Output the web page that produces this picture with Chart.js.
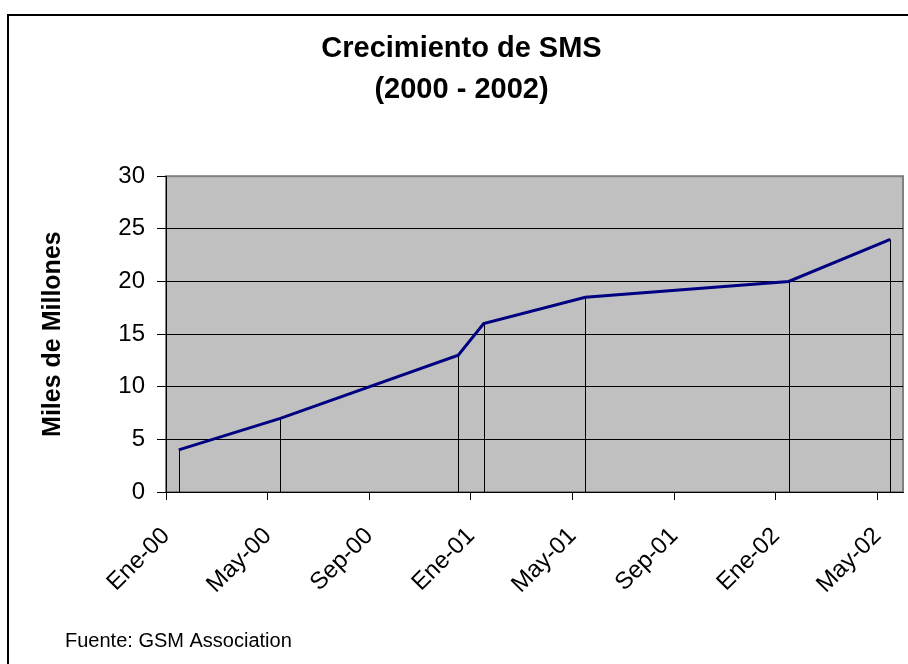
<!DOCTYPE html>
<html>
<head>
<meta charset="utf-8">
<script src="https://cdn.jsdelivr.net/npm/chart.js@4.4.1/dist/chart.umd.min.js"></script>
<style>
  body { margin: 0; background: #fff; overflow: hidden; width: 908px; height: 664px; position: relative; }
  #marco { position: absolute; left: 7px; top: 14px; width: 960px; height: 720px; border: 2px solid #000; }
  #grafico { position: absolute; left: 0; top: 0; }
</style>
</head>
<body>
<div id="marco"></div>
<canvas id="grafico" width="908" height="664"></canvas>
<script>
// meses contados desde Ene-00
var meses = [0, 4, 11, 12, 16, 24, 28];
var fechas = ['Ene-00', 'May-00', 'Dic-00', 'Ene-01', 'May-01', 'Ene-02', 'May-02'];
var sms = [4, 7, 13, 16, 18.5, 20, 24];
var etiquetasX = ['Ene-00', 'May-00', 'Sep-00', 'Ene-01', 'May-01', 'Sep-01', 'Ene-02', 'May-02'];
var titulo = ['Crecimiento de SMS', '(2000 - 2002)'];
var fuente = 'Fuente: GSM Association';

var familia = "'Liberation Sans', Arial, sans-serif";
Chart.defaults.color = '#000';
Chart.defaults.font.family = familia;

var puntos = meses.map(function (m, i) {
  return { x: m + 0.5, y: sms[i] };  // Excel dibuja cada mes en su centro
});

var fondoArea = {
  id: 'fondoArea',
  beforeDraw: function (chart) {
    var a = chart.chartArea, ctx = chart.ctx;
    ctx.save();
    ctx.fillStyle = '#C0C0C0';
    ctx.fillRect(a.left, a.top, a.right - a.left, a.bottom - a.top);
    ctx.strokeStyle = '#808080';
    ctx.lineWidth = 2;
    ctx.strokeRect(a.left, a.top, a.right - a.left, a.bottom - a.top);
    ctx.restore();
  }
};

var lineasCaida = {
  id: 'lineasCaida',
  beforeDatasetsDraw: function (chart) {
    var ctx = chart.ctx;
    var base = chart.scales.y.getPixelForValue(0);
    ctx.save();
    ctx.strokeStyle = '#000';
    ctx.lineWidth = 1;
    chart.getDatasetMeta(0).data.forEach(function (p) {
      var x = Math.round(p.x) + 0.5;
      ctx.beginPath();
      ctx.moveTo(x, p.y);
      ctx.lineTo(x, base);
      ctx.stroke();
    });
    ctx.restore();
  }
};

var notaFuente = {
  id: 'notaFuente',
  afterDraw: function (chart) {
    var ctx = chart.ctx;
    ctx.save();
    ctx.font = '20px ' + familia;
    ctx.fillStyle = '#000';
    ctx.textBaseline = 'alphabetic';
    ctx.fillText(fuente, 65, 647);
    ctx.restore();
  }
};

var ctx = document.getElementById('grafico').getContext('2d');
var grafico = new Chart(ctx, {
  type: 'line',
  data: {
    datasets: [{
      label: 'SMS',
      data: puntos,
      borderColor: '#000080',
      borderWidth: 3,
      pointRadius: 0,
      tension: 0,
      fill: false
    }]
  },
  options: {
    responsive: false,
    animation: false,
    devicePixelRatio: 1,
    layout: { padding: { left: 20, right: 5, top: 0, bottom: 0 } },
    plugins: {
      legend: { display: false },
      tooltip: { enabled: false },
      title: {
        display: true,
        text: titulo,
        font: { size: 29, weight: 'bold', lineHeight: 1.4 },
        padding: { top: 29, bottom: 66 }
      }
    },
    scales: {
      x: {
        type: 'linear',
        min: 0,
        max: 29,
        afterBuildTicks: function (scale) {
          scale.ticks = etiquetasX.map(function (_, i) { return { value: i * 4 }; });
        },
        afterFit: function (scale) {
          scale.height = 172;
          scale.paddingLeft = 0;
          scale.paddingRight = 0;
        },
        grid: { drawOnChartArea: false, drawTicks: true, tickLength: 8, tickColor: '#000', tickWidth: 1 },
        border: { display: true, color: '#000', width: 1 },
        ticks: {
          autoSkip: false,
          maxRotation: 45,
          minRotation: 45,
          padding: 22,
          font: { size: 24 },
          callback: function (v, i) { return etiquetasX[i]; }
        }
      },
      y: {
        min: 0,
        max: 30,
        afterFit: function (scale) { scale.width = 146; },
        ticks: { stepSize: 5, padding: 12, font: { size: 24 } },
        grid: {
          color: function (c) { return c.tick && c.tick.value === 30 ? '#808080' : '#000'; },
          lineWidth: 1,
          tickLength: 9,
          tickColor: '#000'
        },
        border: { display: true, color: '#000', width: 1 },
        title: {
          display: true,
          text: 'Miles de Millones',
          font: { size: 25, weight: 'bold', lineHeight: 1.2 },
          padding: { top: 18, bottom: 0 }
        }
      }
    }
  },
  plugins: [fondoArea, lineasCaida, notaFuente]
});
</script>
</body>
</html>
